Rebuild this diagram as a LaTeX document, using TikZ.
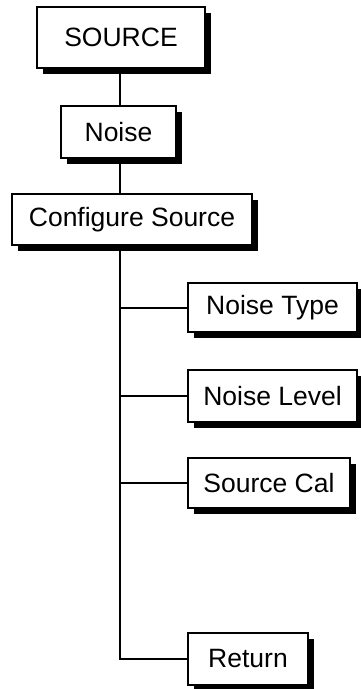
\documentclass[tikz,border=0pt]{standalone}
\usepackage{fontspec}
\setmainfont{Liberation Sans}
\usetikzlibrary{shadows}
\begin{document}
\begin{tikzpicture}[x=1pt,y=-1pt,
  box/.style={draw=black, line width=1.6pt, fill=white, inner sep=0pt,
    font=\fontsize{26.5}{30}\selectfont,
    drop shadow={shadow xshift=6pt, shadow yshift=-6pt, opacity=1, fill=black}},
  conn/.style={line width=2pt, black}]
\useasboundingbox (0,0) rectangle (360,689);
\coordinate (tr) at (120,0);
\node[box, minimum width=168pt, minimum height=61pt] (src) at (121,37.5) {SOURCE};
\node[box, minimum width=115pt, minimum height=52pt] (noise) at (118.5,132) {Noise};
\node[box, minimum width=240pt, minimum height=51pt] (cfg) at (132,219.5) {Configure Source};
\node[box, minimum width=169pt, minimum height=49pt] (nt) at (272.5,307.5) {Noise Type};
\node[box, minimum width=169pt, minimum height=52pt] (nl) at (272.5,396) {Noise Level};
\node[box, minimum width=162pt, minimum height=50pt] (sc) at (269,483) {Source Cal};
\node[box, minimum width=120pt, minimum height=52pt] (ret) at (248,659) {Return};
\draw[conn] (src.south -| tr) -- (noise.north -| tr);
\draw[conn] (noise.south -| tr) -- (cfg.north -| tr);
\draw[conn] (cfg.south -| tr) -- (ret.west -| tr) -- (ret.west);
\draw[conn] (nt.west -| tr) -- (nt.west);
\draw[conn] (nl.west -| tr) -- (nl.west);
\draw[conn] (sc.west -| tr) -- (sc.west);
\end{tikzpicture}
\end{document}
